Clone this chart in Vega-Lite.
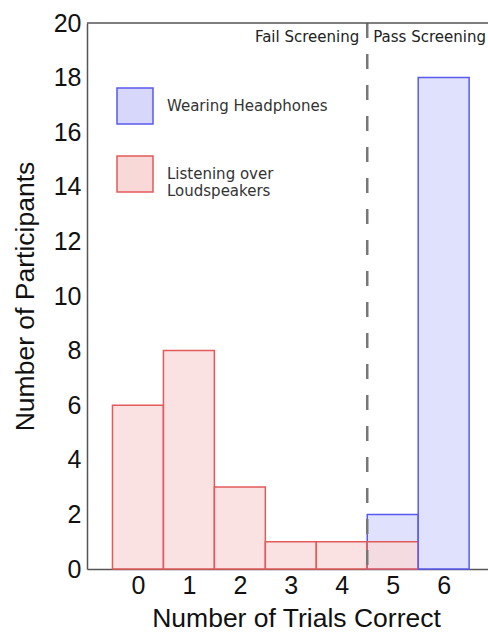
{
  "$schema": "https://vega.github.io/schema/vega-lite/v6.json",
  "width": 401,
  "height": 546,
  "autosize": "none",
  "padding": {"left": 87, "top": 23, "right": 0, "bottom": 63},
  "config": {
    "view": {"stroke": null},
    "font": "Liberation Sans",
    "axis": {"grid": false, "ticks": false, "domainColor": "#555555", "domainWidth": 1.5, "labelColor": "#111111", "titleColor": "#111111", "titleFontWeight": "normal"}
  },
  "layer": [
    {
      "data": {"values": [
        {"trials": 5, "lo": 4.5, "hi": 5.5, "count": 2, "condition": "Wearing Headphones"},
        {"trials": 6, "lo": 5.5, "hi": 6.5, "count": 18, "condition": "Wearing Headphones"},
        {"trials": 0, "lo": -0.5, "hi": 0.5, "count": 6, "condition": "Listening over Loudspeakers"},
        {"trials": 1, "lo": 0.5, "hi": 1.5, "count": 8, "condition": "Listening over Loudspeakers"},
        {"trials": 2, "lo": 1.5, "hi": 2.5, "count": 3, "condition": "Listening over Loudspeakers"},
        {"trials": 3, "lo": 2.5, "hi": 3.5, "count": 1, "condition": "Listening over Loudspeakers"},
        {"trials": 4, "lo": 3.5, "hi": 4.5, "count": 1, "condition": "Listening over Loudspeakers"},
        {"trials": 5, "lo": 4.5, "hi": 5.5, "count": 1, "condition": "Listening over Loudspeakers"}
      ]},
      "mark": {"type": "bar", "strokeWidth": 1.5, "fillOpacity": 0.75},
      "encoding": {
        "x": {"field": "lo", "type": "quantitative",
          "scale": {"domain": [-1, 6.87], "nice": false, "zero": false},
          "axis": {"values": [0, 1, 2, 3, 4, 5, 6], "labelFontSize": 25, "labelPadding": 4, "title": "Number of Trials Correct", "titleFontSize": 26.5, "titlePadding": 7, "titleX": 209, "labelFlush": false}},
        "x2": {"field": "hi"},
        "y": {"field": "count", "type": "quantitative", "stack": null,
          "scale": {"domain": [0, 20], "nice": false},
          "axis": {"values": [0, 2, 4, 6, 8, 10, 12, 14, 16, 18, 20], "labelFontSize": 25, "labelPadding": 6, "title": "Number of Participants", "titleFontSize": 26.5, "titlePadding": 14, "labelFlush": false}},
        "y2": {"datum": 0},
        "fill": {"field": "condition", "type": "nominal",
          "scale": {"domain": ["Wearing Headphones", "Listening over Loudspeakers"], "range": ["#d6d7fb", "#f9d8d8"]},
          "legend": {"title": null, "orient": "none", "legendX": 29, "legendY": 64, "padding": 0,
            "symbolType": "square", "symbolSize": 1296, "symbolStrokeWidth": 1.5,
            "labelFont": "DejaVu Sans", "labelFontSize": 15, "labelColor": "#333333", "labelOffset": 13, "labelLimit": 300,
            "rowPadding": 26,
            "labelExpr": "datum.label == 'Listening over Loudspeakers' ? ['Listening over', 'Loudspeakers'] : datum.label"}},
        "stroke": {"field": "condition", "type": "nominal",
          "scale": {"domain": ["Wearing Headphones", "Listening over Loudspeakers"], "range": ["#5a5af0", "#e25a5a"]},
          "legend": {"title": null, "orient": "none", "legendX": 29, "legendY": 64, "padding": 0,
            "symbolType": "square", "symbolSize": 1296, "symbolStrokeWidth": 1.5,
            "labelFont": "DejaVu Sans", "labelFontSize": 15, "labelColor": "#333333", "labelOffset": 13, "labelLimit": 300,
            "rowPadding": 26,
            "labelExpr": "datum.label == 'Listening over Loudspeakers' ? ['Listening over', 'Loudspeakers'] : datum.label"}},
        "order": {"field": "trials", "type": "quantitative"}
      }
    },
    {
      "data": {"values": [{"cut": 4.5}]},
      "mark": {"type": "rule", "color": "#777777", "strokeWidth": 2.5, "strokeDash": [15, 16]},
      "encoding": {"x": {"field": "cut", "type": "quantitative"}}
    },
    {
      "data": {"values": [{"top": 20}]},
      "mark": {"type": "rule", "color": "#555555", "strokeWidth": 1.5},
      "encoding": {"y": {"field": "top", "type": "quantitative"}}
    },
    {
      "data": {"values": [{"cut": 4.5, "level": 20, "label": "Fail Screening"}]},
      "mark": {"type": "text", "align": "right", "baseline": "middle", "dx": -8, "dy": 14, "font": "DejaVu Sans", "fontSize": 15, "color": "#222222"},
      "encoding": {"x": {"field": "cut", "type": "quantitative"}, "y": {"field": "level", "type": "quantitative"}, "text": {"field": "label"}}
    },
    {
      "data": {"values": [{"cut": 4.5, "level": 20, "label": "Pass Screening"}]},
      "mark": {"type": "text", "align": "left", "baseline": "middle", "dx": 6, "dy": 14, "font": "DejaVu Sans", "fontSize": 15, "color": "#222222"},
      "encoding": {"x": {"field": "cut", "type": "quantitative"}, "y": {"field": "level", "type": "quantitative"}, "text": {"field": "label"}}
    }
  ]
}
